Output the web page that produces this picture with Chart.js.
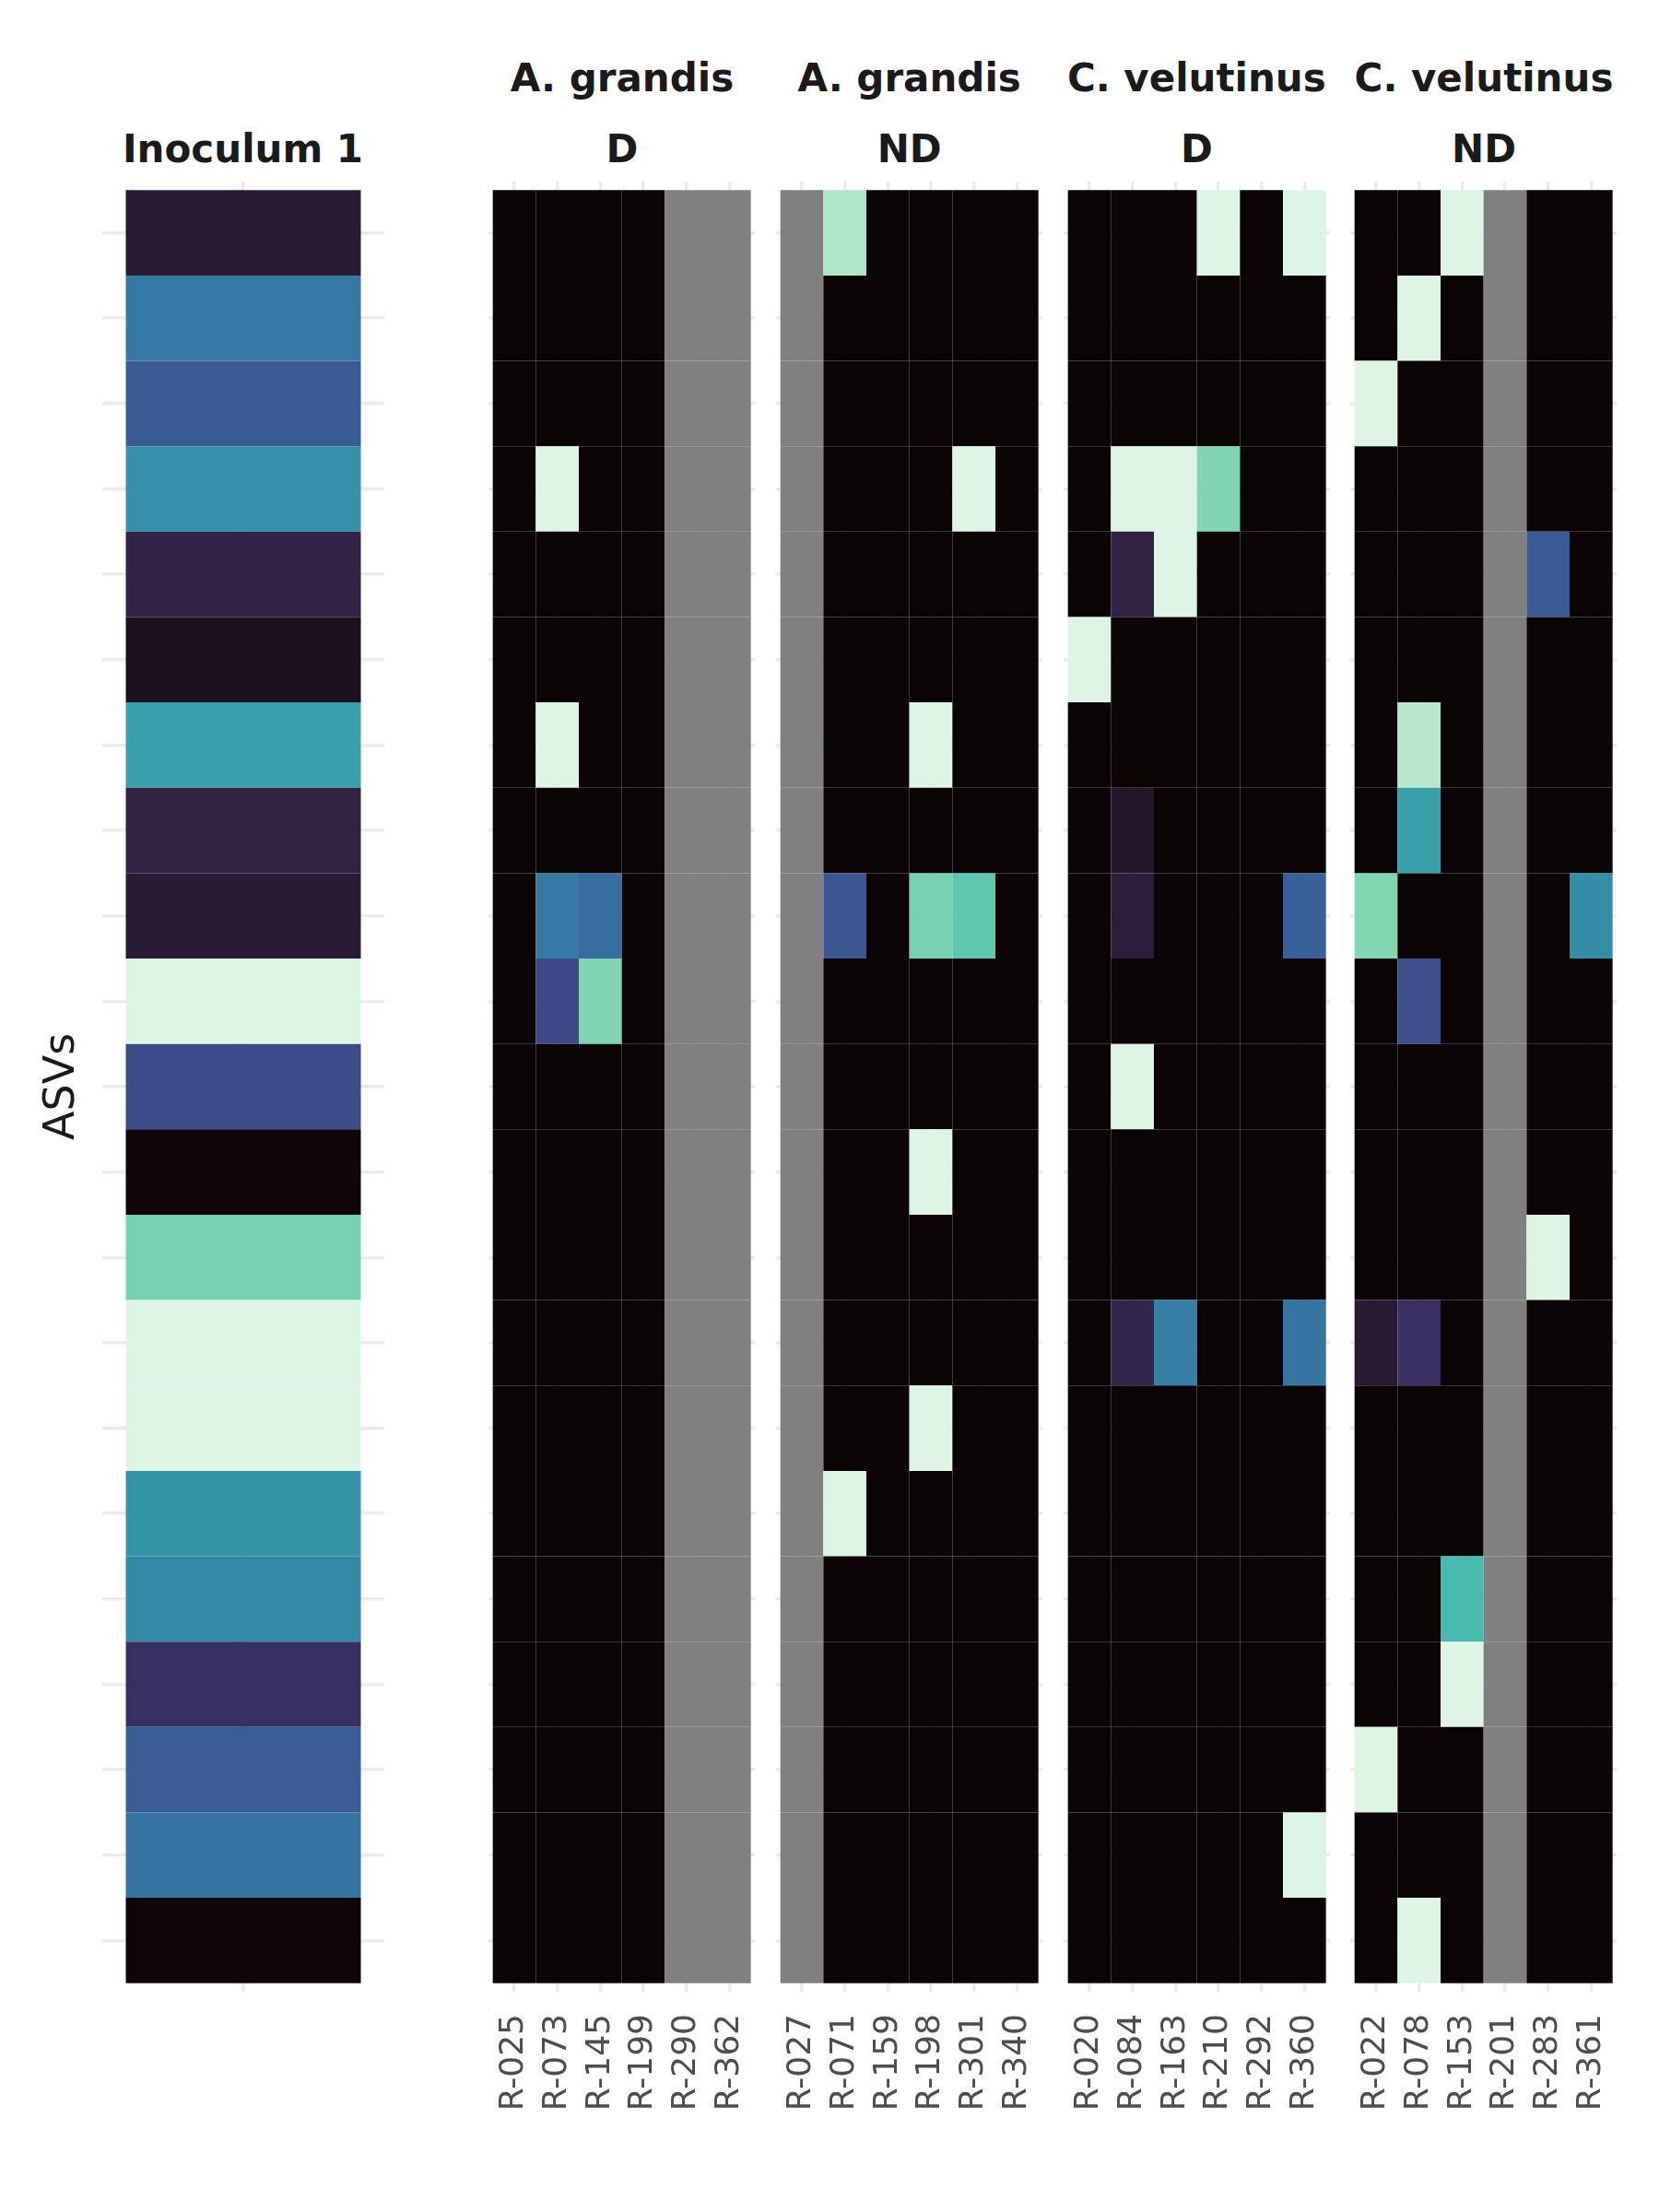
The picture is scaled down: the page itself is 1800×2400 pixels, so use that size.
<!DOCTYPE html>
<html>
<head>
<meta charset="utf-8">
<script src="https://cdn.jsdelivr.net/npm/chart.js@4.4.1/dist/chart.umd.min.js"></script>
<style>
  html, body { margin: 0; padding: 0; background: #ffffff; }
  body { width: 1800px; height: 2400px; position: relative; overflow: hidden; font-family: "DejaVu Sans", sans-serif; }
  canvas { position: absolute; }
  .strip { position: absolute; font-family: "DejaVu Sans", sans-serif; font-weight: bold; font-size: 42px; line-height: 42px; color: #1a1a1a; white-space: nowrap; transform: translateX(-50%); }
  .ylab { position: absolute; font-family: "DejaVu Sans", sans-serif; font-size: 46px; line-height: 46px; color: #1a1a1a; white-space: nowrap; transform: translate(-50%, -50%) rotate(-90deg); }
</style>
</head>
<body>
<div id="root"></div>
<script>
// ---------------- DATA ----------------
// ASV categories (rows, top to bottom)
const asvs = ['ASV 1','ASV 2','ASV 3','ASV 4','ASV 5','ASV 6','ASV 7','ASV 8','ASV 9','ASV 10','ASV 11',
              'ASV 12','ASV 13','ASV 14','ASV 15','ASV 16','ASV 17','ASV 18','ASV 19','ASV 20','ASV 21'];

// facet labels
const hostLabels = ['', 'A. grandis', 'A. grandis', 'C. velutinus', 'C. velutinus'];
const groupLabels = ['Inoculum 1', 'D', 'ND', 'D', 'ND'];

// sample (column) tick labels per facet
const inocSamples = ['Inoculum 1'];
const agDSamples  = ['R-025', 'R-073', 'R-145', 'R-199', 'R-290', 'R-362'];
const agNDSamples = ['R-027', 'R-071', 'R-159', 'R-198', 'R-301', 'R-340'];
const cvDSamples  = ['R-020', 'R-084', 'R-163', 'R-210', 'R-292', 'R-360'];
const cvNDSamples = ['R-022', 'R-078', 'R-153', 'R-201', 'R-283', 'R-361'];

// scaled abundance (0 = none, 1 = max), null = not available
const inocValues = [[0.125],[0.50],[0.39],[0.58],[0.165],[0.065],[0.632],[0.16],[0.125],[1.0],[0.336],
                    [0.015],[0.82],[1.0],[1.0],[0.59],[0.555],[0.226],[0.40],[0.48],[0.012]];

const agDValues = [
  [0, 0,    0,     0, null, null],
  [0, 0,    0,     0, null, null],
  [0, 0,    0,     0, null, null],
  [0, 1.0,  0,     0, null, null],
  [0, 0,    0,     0, null, null],
  [0, 0,    0,     0, null, null],
  [0, 1.0,  0,     0, null, null],
  [0, 0,    0,     0, null, null],
  [0, 0.50, 0.46,  0, null, null],
  [0, 0.33, 0.835, 0, null, null],
  [0, 0,    0,     0, null, null],
  [0, 0,    0,     0, null, null],
  [0, 0,    0,     0, null, null],
  [0, 0,    0,     0, null, null],
  [0, 0,    0,     0, null, null],
  [0, 0,    0,     0, null, null],
  [0, 0,    0,     0, null, null],
  [0, 0,    0,     0, null, null],
  [0, 0,    0,     0, null, null],
  [0, 0,    0,     0, null, null],
  [0, 0,    0,     0, null, null]
];

const agNDValues = [
  [null, 0.92, 0, 0,    0,     0],
  [null, 0,    0, 0,    0,     0],
  [null, 0,    0, 0,    0,     0],
  [null, 0,    0, 0,    1.0,   0],
  [null, 0,    0, 0,    0,     0],
  [null, 0,    0, 0,    0,     0],
  [null, 0,    0, 1.0,  0,     0],
  [null, 0,    0, 0,    0,     0],
  [null, 0.38, 0, 0.82, 0.775, 0],
  [null, 0,    0, 0,    0,     0],
  [null, 0,    0, 0,    0,     0],
  [null, 0,    0, 1.0,  0,     0],
  [null, 0,    0, 0,    0,     0],
  [null, 0,    0, 0,    0,     0],
  [null, 0,    0, 1.0,  0,     0],
  [null, 1.0,  0, 0,    0,     0],
  [null, 0,    0, 0,    0,     0],
  [null, 0,    0, 0,    0,     0],
  [null, 0,    0, 0,    0,     0],
  [null, 0,    0, 0,    0,     0],
  [null, 0,    0, 0,    0,     0]
];

const cvDValues = [
  [0,   0,    0,    1.0,   0, 1.0],
  [0,   0,    0,    0,     0, 0],
  [0,   0,    0,    0,     0, 0],
  [0,   1.0,  1.0,  0.835, 0, 0],
  [0,   0.16, 1.0,  0,     0, 0],
  [1.0, 0,    0,    0,     0, 0],
  [0,   0,    0,    0,     0, 0],
  [0,   0.10, 0,    0,     0, 0],
  [0,   0.14, 0,    0,     0, 0.41],
  [0,   0,    0,    0,     0, 0],
  [0,   1.0,  0,    0,     0, 0],
  [0,   0,    0,    0,     0, 0],
  [0,   0,    0,    0,     0, 0],
  [0,   0.18, 0.52, 0,     0, 0.48],
  [0,   0,    0,    0,     0, 0],
  [0,   0,    0,    0,     0, 0],
  [0,   0,    0,    0,     0, 0],
  [0,   0,    0,    0,     0, 0],
  [0,   0,    0,    0,     0, 0],
  [0,   0,    0,    0,     0, 1.0],
  [0,   0,    0,    0,     0, 0]
];

const cvNDValues = [
  [0,    0,    1.0,  null, 0,    0],
  [0,    1.0,  0,    null, 0,    0],
  [1.0,  0,    0,    null, 0,    0],
  [0,    0,    0,    null, 0,    0],
  [0,    0,    0,    null, 0.39, 0],
  [0,    0,    0,    null, 0,    0],
  [0,    0.93, 0,    null, 0,    0],
  [0,    0.63, 0,    null, 0,    0],
  [0.84, 0,    0,    null, 0,    0.56],
  [0,    0.35, 0,    null, 0,    0],
  [0,    0,    0,    null, 0,    0],
  [0,    0,    0,    null, 0,    0],
  [0,    0,    0,    null, 1.0,  0],
  [0.12, 0.23, 0,    null, 0,    0],
  [0,    0,    0,    null, 0,    0],
  [0,    0,    0,    null, 0,    0],
  [0,    0,    0.73, null, 0,    0],
  [0,    0,    1.0,  null, 0,    0],
  [1.0,  0,    0,    null, 0,    0],
  [0,    0,    0,    null, 0,    0],
  [0,    1.0,  0,    null, 0,    0]
];

// ---------------- STYLE / LAYOUT ----------------
const MAKO = [[0, [11,4,5]], [1/7, [46,30,59]], [2/7, [65,61,123]], [3/7, [55,101,158]],
              [4/7, [52,143,167]], [5/7, [64,183,173]], [6/7, [139,218,178]], [1, [222,245,229]]];
const NA_COLOR = '#808080';
function makoColor(v) {
  if (v === null || v === undefined) return NA_COLOR;
  v = Math.max(0, Math.min(1, v));
  for (let i = 1; i < MAKO.length; i++) {
    if (v <= MAKO[i][0]) {
      const [p0, c0] = MAKO[i-1], [p1, c1] = MAKO[i];
      const t = (v - p0) / (p1 - p0);
      const c = c0.map((a, k) => Math.round(a + (c1[k] - a) * t));
      return `rgb(${c[0]},${c[1]},${c[2]})`;
    }
  }
  return 'rgb(222,245,229)';
}

const AREA_TOP = 197, AREA_H = 1964, PAD_TOP = 10, AXIS_H = 150;
const GRID_COLOR = '#EBEBEB', GRID_W = 3.5;
const TICK_FONT = { family: 'DejaVu Sans', size: 36 };
const PAD_SIDE = 90;

const facets = [
  { samples: inocSamples, values: inocValues, areaL: 110.5, areaW: 306, showTicks: false, catPct: 1 / 1.2, center: 263.5 },
  { samples: agDSamples,  values: agDValues,  areaL: 535 - 4.667,            areaW: 289.33, showTicks: true, catPct: 1, center: 535 + 140 },
  { samples: agNDSamples, values: agNDValues, areaL: 535 + 311.67 - 4.667,   areaW: 289.33, showTicks: true, catPct: 1, center: 535 + 311.67 + 140 },
  { samples: cvDSamples,  values: cvDValues,  areaL: 535 + 2*311.67 - 4.667, areaW: 289.33, showTicks: true, catPct: 1, center: 535 + 2*311.67 + 140 },
  { samples: cvNDSamples, values: cvNDValues, areaL: 535 + 3*311.67 - 4.667, areaW: 289.33, showTicks: true, catPct: 1, center: 535 + 3*311.67 + 140 }
];

const root = document.getElementById('root');

facets.forEach((f, idx) => {
  const n = f.samples.length;
  const cells = [];
  f.values.forEach((row, r) => row.forEach((v, j) => cells.push({ x: j, y: [r - 0.5, r + 0.5], v: v })));

  const cw = Math.ceil(f.areaW + 2 * PAD_SIDE);
  const ch = PAD_TOP + AREA_H + AXIS_H;
  const canvas = document.createElement('canvas');
  canvas.width = cw;
  canvas.height = ch;
  canvas.style.left = (f.areaL - PAD_SIDE) + 'px';
  canvas.style.top = (AREA_TOP - PAD_TOP) + 'px';
  canvas.style.width = cw + 'px';
  canvas.style.height = ch + 'px';
  root.appendChild(canvas);

  new Chart(canvas, {
    type: 'bar',
    data: {
      datasets: [{
        data: cells,
        backgroundColor: (c) => makoColor(c.raw ? c.raw.v : null),
        borderWidth: 0,
        inflateAmount: 0,
        barPercentage: 1,
        categoryPercentage: f.catPct
      }]
    },
    options: {
      responsive: false,
      maintainAspectRatio: false,
      animation: false,
      events: [],
      devicePixelRatio: 1,
      layout: { padding: { left: PAD_SIDE, right: cw - PAD_SIDE - f.areaW, top: PAD_TOP, bottom: 0 } },
      plugins: { legend: { display: false }, tooltip: { enabled: false }, title: { display: false } },
      scales: {
        x: {
          type: 'linear', min: -0.6, max: n - 0.4, offset: false, bounds: 'data',
          afterBuildTicks: (s) => { s.ticks = f.samples.map((_, i) => ({ value: i })); },
          afterFit: (s) => { s.height = AXIS_H; s.paddingLeft = 0; s.paddingRight = 0; },
          ticks: {
            display: f.showTicks, autoSkip: false, minRotation: 90, maxRotation: 90,
            padding: 24, color: '#4D4D4D', font: TICK_FONT,
            callback: (v) => f.samples[Math.round(v)]
          },
          grid: { color: GRID_COLOR, lineWidth: GRID_W, drawTicks: false, offset: false },
          border: { display: false }
        },
        y: {
          type: 'linear', min: -0.6, max: asvs.length - 0.4, reverse: true, bounds: 'data', offset: false,
          afterBuildTicks: (s) => { s.ticks = asvs.map((_, i) => ({ value: i })); },
          afterFit: (s) => { s.width = 0; s.paddingTop = 0; s.paddingBottom = 0; },
          ticks: { display: false },
          grid: { color: GRID_COLOR, lineWidth: GRID_W, drawTicks: false, offset: false },
          border: { display: false }
        }
      }
    }
  });

  // facet strip labels
  if (hostLabels[idx]) {
    const t1 = document.createElement('div');
    t1.className = 'strip';
    t1.textContent = hostLabels[idx];
    t1.style.left = f.center + 'px';
    t1.style.top = (98 - 34) + 'px';
    root.appendChild(t1);
  }
  const t2 = document.createElement('div');
  t2.className = 'strip';
  t2.textContent = groupLabels[idx];
  t2.style.left = f.center + 'px';
  t2.style.top = (174.5 - 34) + 'px';
  root.appendChild(t2);
});

// y axis title
const yl = document.createElement('div');
yl.className = 'ylab';
yl.textContent = 'ASVs';
yl.style.left = '64px';
yl.style.top = '1179px';
root.appendChild(yl);
</script>
</body>
</html>
